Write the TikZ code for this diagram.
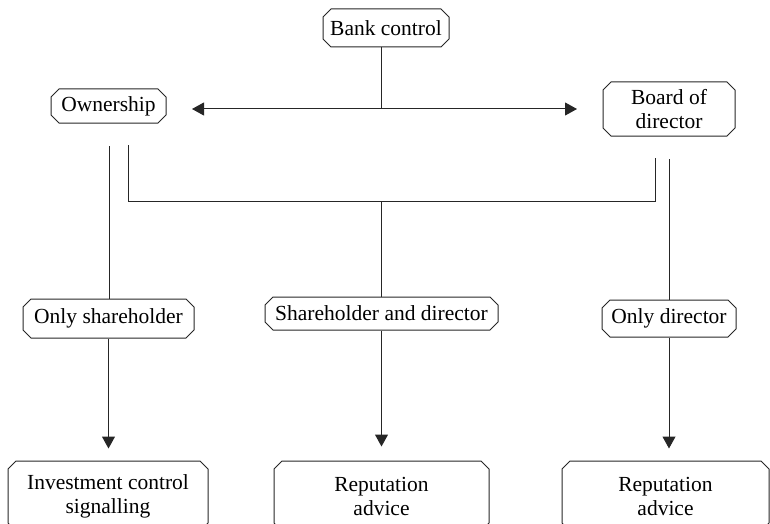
\documentclass[tikz,border=0pt]{standalone}
\usepackage{fontspec}
\setmainfont{Liberation Serif}
\usetikzlibrary{shapes.misc,arrows.meta}
\begin{document}
\begin{tikzpicture}[x=1pt,y=-1pt,
  box/.style={draw=black!85, line width=1pt, chamfered rectangle,
    chamfered rectangle xsep=4pt, chamfered rectangle ysep=4pt,
    inner sep=0pt, align=center,
    font=\fontsize{21.5}{24}\selectfont},
  conn/.style={draw=black!85, line width=1pt},
  arr/.style={conn, -{Triangle[length=12pt,width=13pt]}}]
\useasboundingbox (0,0) rectangle (770,524);
\clip (0,0) rectangle (770,524);
% nodes
\node[box, minimum width=126pt, minimum height=38pt] (bank) at (386,28) {Bank control};
\node[box, minimum width=115pt, minimum height=34pt] (own) at (108.5,106) {Ownership};
\node[box, minimum width=132pt, minimum height=54pt] (board) at (669,109) {Board of\\director};
\node[box, minimum width=171pt, minimum height=39pt] (osh) at (108.5,318.5) {Only shareholder};
\node[box, minimum width=233pt, minimum height=33pt] (sad) at (381.5,313.5) {Shareholder and director};
\node[box, minimum width=134pt, minimum height=37pt] (od) at (669,318.5) {Only director};
\node[box, minimum width=200pt, minimum height=70pt] (inv) at (108,496) {Investment control\\signalling};
\node[box, minimum width=215pt, minimum height=70pt] (rep1) at (381.5,496) {Reputation\\advice};
\node[box, minimum width=207pt, minimum height=70pt] (rep2) at (665.5,496) {Reputation\\advice};
% coordinates
\coordinate (j) at (381,109);
\coordinate (al) at (192,109);
\coordinate (ar) at (577,109);
\coordinate (l1) at (109,146);
\coordinate (l2a) at (128,145);
\coordinate (l2b) at (128,201);
\coordinate (r2b) at (655,201);
\coordinate (r2a) at (655,158);
\coordinate (m) at (381,201);
\coordinate (r1) at (669,159);
% connectors
\draw[conn] (bank.south -| j) -- (j);
\draw[conn, {Triangle[length=12pt,width=13pt]}-{Triangle[length=12pt,width=13pt]}] (al) -- (ar);
\draw[conn] (l1) -- (l1 |- osh.north);
\draw[conn] (l2a) -- (l2b) -- (r2b) -- (r2a);
\draw[conn] (m) -- (m |- sad.north);
\draw[conn] (r1) -- (r1 |- od.north);
\draw[arr] (osh.south) -- ([yshift=12pt]osh.south |- inv.north);
\draw[arr] (sad.south) -- ([yshift=14pt]sad.south |- rep1.north);
\draw[arr] (od.south) -- ([yshift=12pt]od.south |- rep2.north);
\end{tikzpicture}
\end{document}
